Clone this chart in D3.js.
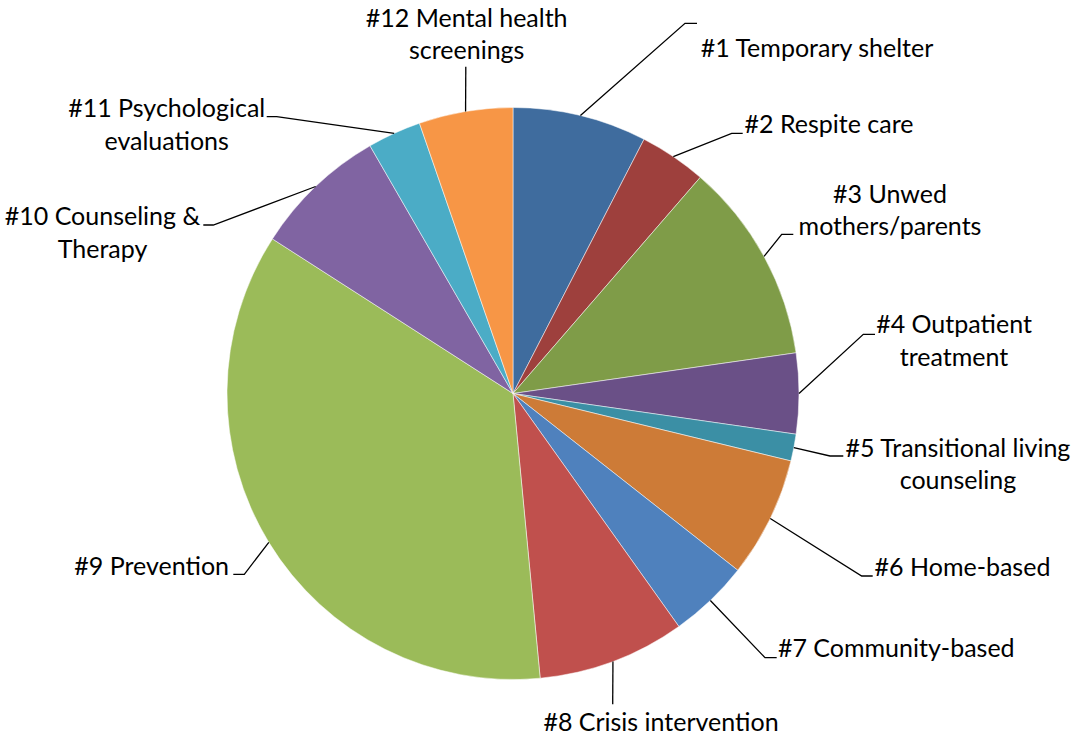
<!DOCTYPE html>
<html>
<head>
<meta charset="utf-8">
<script src="https://cdn.jsdelivr.net/npm/d3@7"></script>
<style>
  body { margin: 0; background: #fff; }
  svg text { font-family: Lato, "Open Sans", sans-serif; fill: #000; }
</style>
</head>
<body>
<div id="chart"></div>
<script>
// data
var categories = [
  ["#1 Temporary shelter"],
  ["#2 Respite care"],
  ["#3 Unwed", "mothers/parents"],
  ["#4 Outpatient", "treatment"],
  ["#5 Transitional living", "counseling"],
  ["#6 Home-based"],
  ["#7 Community-based"],
  ["#8 Crisis intervention"],
  ["#9 Prevention"],
  ["#10 Counseling &", "Therapy"],
  ["#11 Psychological", "evaluations"],
  ["#12 Mental health", "screenings"]
];
var values = [10, 5, 15, 6, 2, 9, 6, 11, 47, 10, 4, 7];
var colors = ["#3f6c9e", "#9e403d", "#7f9c48", "#6a5087", "#3b8fa5", "#cd7b37",
              "#4f81bd", "#c0504d", "#9bbb59", "#8064a2", "#4bacc6", "#f79646"];

// label placement (page pixels): text centre x, first baseline y, leader elbow and end
var labelLayout = [
  { x: 817, y: 56.7, elbow: [685, 23.3], end: [697, 23.3] },
  { x: 829, y: 133.3, elbow: [731.7, 133.3], end: [742.7, 133.3] },
  { x: 890, y: 202.5, elbow: [781.7, 234.3], end: [793.3, 234.3] },
  { x: 954, y: 333.3, elbow: [863.3, 334.3], end: [875, 334.3] },
  { x: 958, y: 456.7, elbow: [830, 456], end: [843.3, 456] },
  { x: 962.5, y: 576, elbow: [861.7, 576], end: [872.7, 576] },
  { x: 896.3, y: 656.7, elbow: [765, 657.7], end: [776.7, 657.7] },
  { x: 661, y: 730.7, elbow: [612.7, 704.3], end: [612.7, 704.3] },
  { x: 151.7, y: 575, elbow: [244.3, 574.3], end: [233.3, 574.3] },
  { x: 102.5, y: 225, elbow: [213.3, 225], end: [203.3, 225] },
  { x: 166.7, y: 117.3, elbow: [276.7, 116.7], end: [266.7, 116.7] },
  { x: 466.7, y: 26.7, elbow: [465.8, 66.7], end: [465.8, 66.7] }
];

var width = 1074, height = 737;
var cx = 513, cy = 393.5, radius = 286;
var lineGap = 32.5;

var svg = d3.select("#chart").append("svg")
  .attr("width", width)
  .attr("height", height);

var pie = d3.pie().sort(null).value(function(d) { return d; });
var arcs = pie(values);

var arc = d3.arc().innerRadius(0).outerRadius(radius);
var rimArc = d3.arc().innerRadius(radius).outerRadius(radius);

var g = svg.append("g")
  .attr("transform", "translate(" + cx + "," + cy + ")");

g.selectAll("path.slice")
  .data(arcs)
  .enter().append("path")
  .attr("class", "slice")
  .attr("d", arc)
  .attr("fill", function(d, i) { return colors[i]; })
  .attr("stroke", "#ffffff")
  .attr("stroke-width", 0.5);

// leader lines: from slice rim (mid angle) to the label
svg.selectAll("polyline.leader")
  .data(arcs)
  .enter().append("polyline")
  .attr("class", "leader")
  .attr("fill", "none")
  .attr("stroke", "#000")
  .attr("stroke-width", 1.3)
  .attr("points", function(d, i) {
    var p = rimArc.centroid(d);
    var L = labelLayout[i];
    return [[cx + p[0], cy + p[1]], L.elbow, L.end].map(function(q) { return q.join(","); }).join(" ");
  });

var labels = svg.selectAll("text.label")
  .data(categories)
  .enter().append("text")
  .attr("class", "label")
  .attr("text-anchor", "middle")
  .style("font-size", "25px");

labels.selectAll("tspan")
  .data(function(d, i) {
    return d.map(function(line, k) { return { line: line, i: i, k: k }; });
  })
  .enter().append("tspan")
  .attr("x", function(d) { return labelLayout[d.i].x; })
  .attr("y", function(d) { return labelLayout[d.i].y + d.k * lineGap; })
  .text(function(d) { return d.line; });
</script>
</body>
</html>
